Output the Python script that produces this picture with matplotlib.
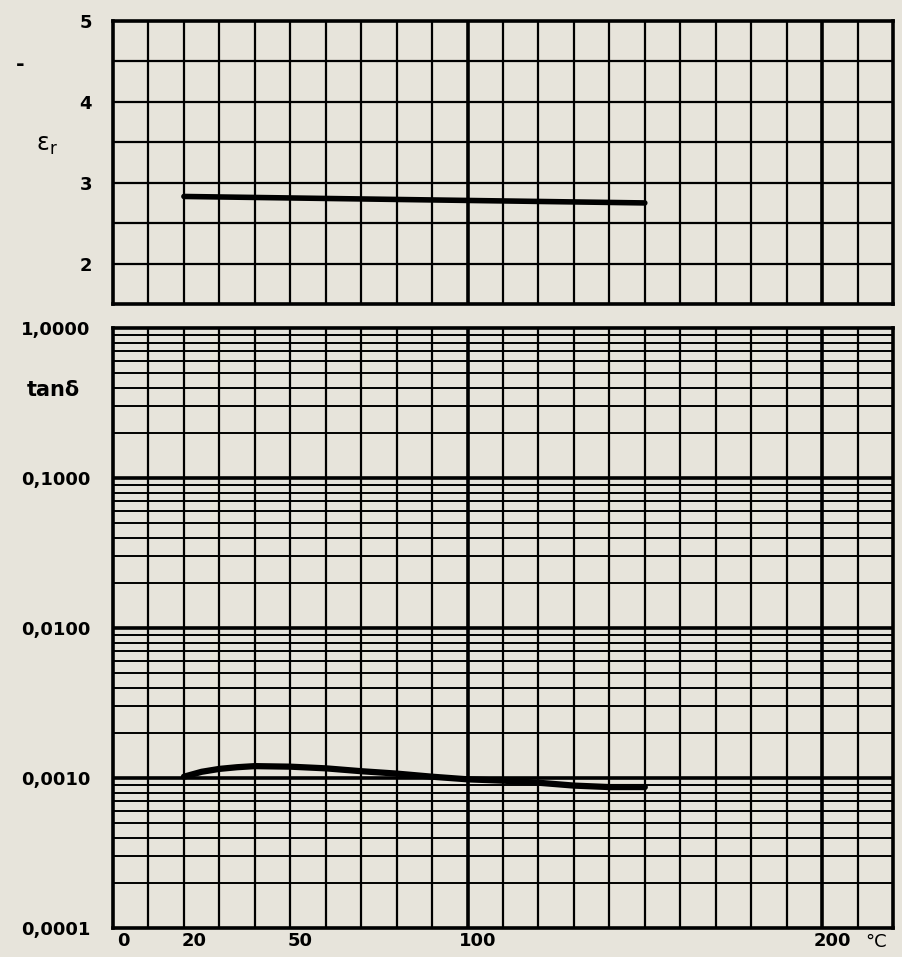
import matplotlib
matplotlib.use("Agg")
import matplotlib.pyplot as plt
import matplotlib.transforms as mtransforms
import numpy as np

# ---- data ----
temp_er = [20, 85, 150]
eps_r = [2.83, 2.79, 2.75]

temp_tan = [20, 25, 30, 35, 40, 50, 60, 70, 80, 90, 100, 110, 120, 130, 140, 150]
tan_delta = [0.00102, 0.00110, 0.00115, 0.00118, 0.00120, 0.00119, 0.00116,
             0.00111, 0.00107, 0.00102, 0.00098, 0.00096, 0.00093, 0.00089,
             0.00087, 0.00087]

x_ticks = [0, 20, 50, 100, 200]
x_ticklabels = ["0", "20", "50", "100", "200"]
er_ticks = [2, 3, 4, 5]
tan_ticks = [1e-4, 1e-3, 1e-2, 1e-1, 1.0]
tan_ticklabels = ["0,0001", "0,0010", "0,0100", "0,1000", "1,0000"]

bg = "#e7e4db"
W, H = 903, 957
fig = plt.figure(figsize=(W / 100, H / 100), dpi=100, facecolor=bg)

left = 113 / W
width = 780 / W
ax1 = fig.add_axes([left, 1 - 304 / H, width, 283 / H], facecolor=bg)
ax2 = fig.add_axes([left, 1 - 928 / H, width, 600 / H], facecolor=bg)

font = dict(family="DejaVu Sans", weight="bold", size=13)

for ax in (ax1, ax2):
    ax.set_xlim(0, 220)
    for s in ax.spines.values():
        s.set_linewidth(2.6)
        s.set_color("black")
    for xv in range(10, 220, 10):
        lw = 2.6 if xv in (100, 200) else 1.6
        ax.axvline(xv, color="black", lw=lw, zorder=1)
    ax.tick_params(length=0)

# top panel
ax1.set_ylim(1.5, 5)
for yv in np.arange(2.0, 5.0, 0.5):
    ax1.axhline(yv, color="black", lw=1.6, zorder=1)
ax1.set_xticks([])
ax1.set_yticks(er_ticks)
ax1.set_yticklabels([str(t) for t in er_ticks], fontdict=font)
ax1.tick_params(axis="y", pad=15)
ax1.plot(temp_er, eps_r, color="black", lw=4, solid_capstyle="round", zorder=3)

fig.text(20 / W, 1 - 65 / H, "-", fontdict=dict(font, size=15), ha="center", va="center")
fig.text(47 / W, 1 - 145 / H, r"$\mathregular{\varepsilon_r}$", fontsize=17,
         ha="center", va="center")

# bottom panel
ax2.set_yscale("log")
ax2.set_ylim(1e-4, 1.0)
for dec in [1e-4, 1e-3, 1e-2, 1e-1]:
    for m in range(2, 10):
        ax2.axhline(dec * m, color="black", lw=1.4, zorder=1)
    if dec > 1e-4:
        ax2.axhline(dec, color="black", lw=2.6, zorder=1)
ax2.minorticks_off()
ax2.set_yticks(tan_ticks)
ax2.set_yticklabels(tan_ticklabels, fontdict=font)
ax2.tick_params(axis="y", pad=16)
ax2.set_xticks(x_ticks)
ax2.set_xticklabels(x_ticklabels, fontdict=font)
ax2.tick_params(axis="x", pad=3)
offset = mtransforms.ScaledTranslation(10 / 100, 0, fig.dpi_scale_trans)
for lab in ax2.get_xticklabels():
    lab.set_transform(lab.get_transform() + offset)
ax2.plot(temp_tan, tan_delta, color="black", lw=4.5, solid_capstyle="round",
         solid_joinstyle="round", zorder=3)

fig.text(876 / W, 1 - 942 / H, "°C", fontdict=dict(font, weight="normal"),
         ha="center", va="center")
fig.text(53 / W, 1 - 390 / H, "tanδ", fontdict=dict(font, size=15), ha="center", va="center")

fig.savefig("out.png", dpi=100, facecolor=bg)
